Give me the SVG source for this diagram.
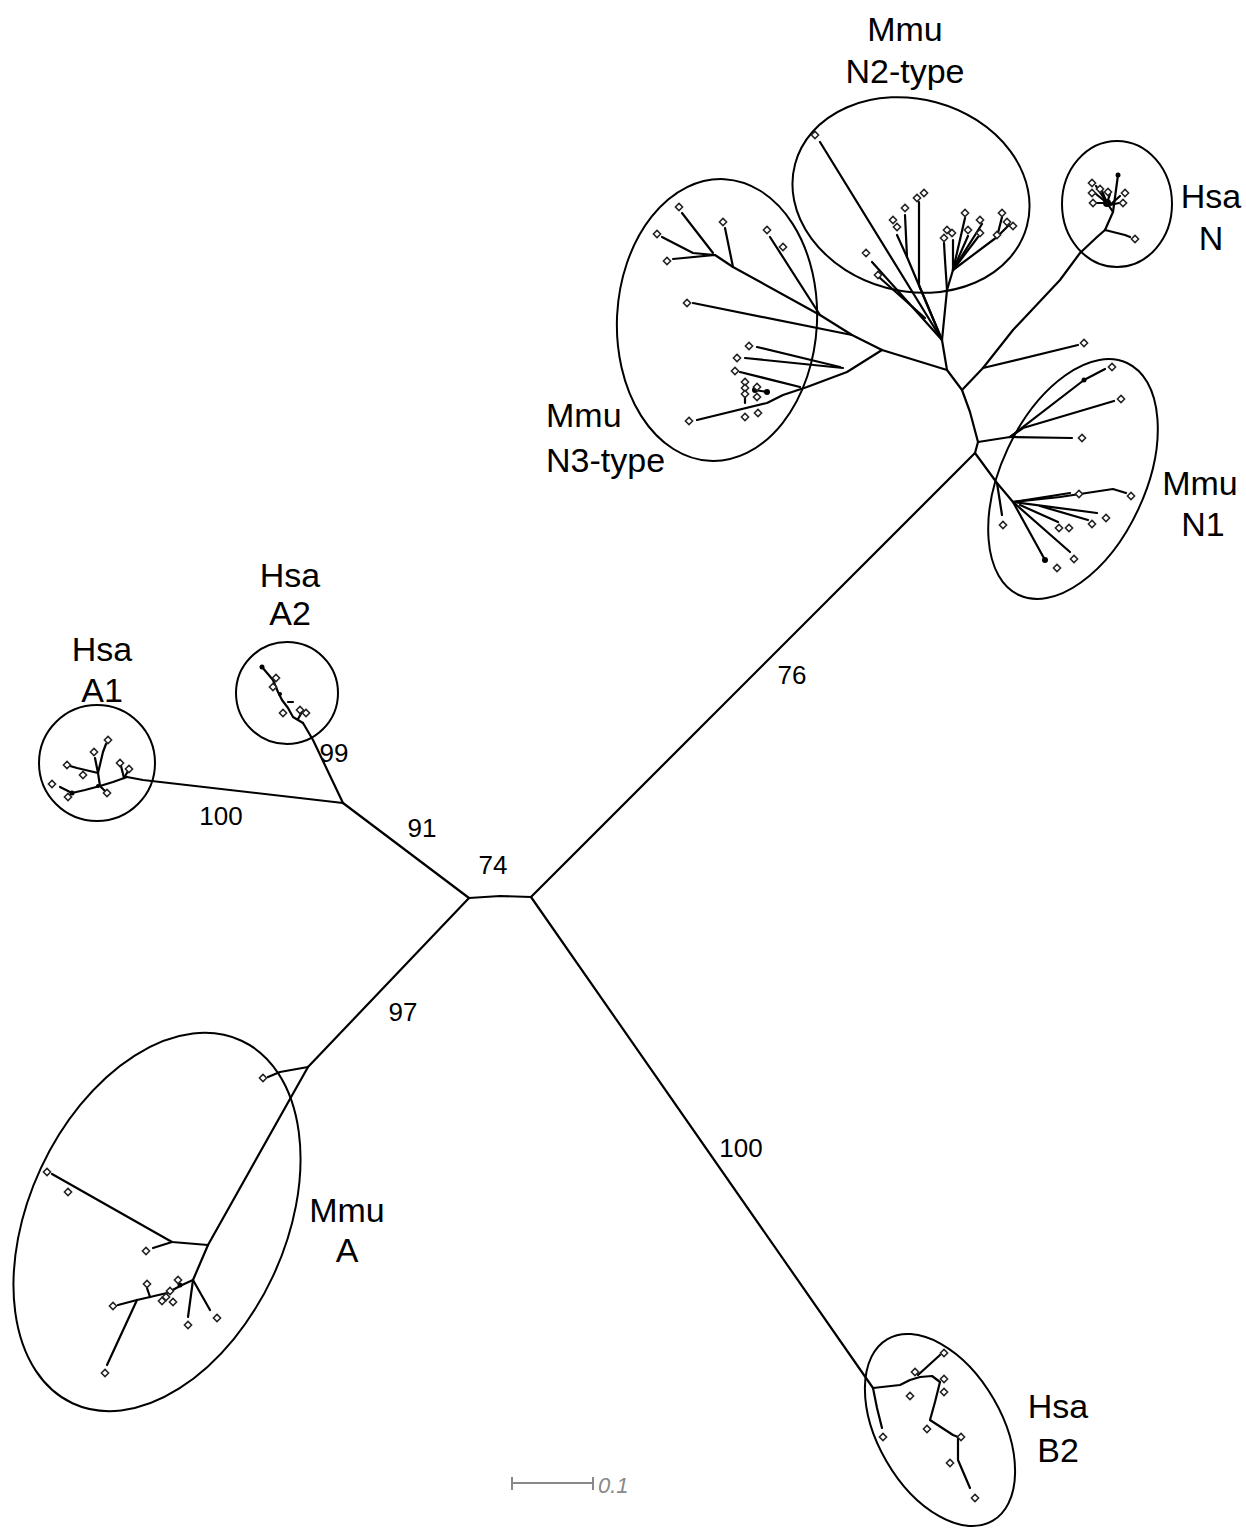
<svg xmlns="http://www.w3.org/2000/svg" xmlns:xlink="http://www.w3.org/1999/xlink" width="1246" height="1529" viewBox="0 0 1246 1529">
<style>
.br{fill:none;stroke:#000;stroke-width:2.2;stroke-linejoin:round;stroke-linecap:round}
.ring{fill:none;stroke:#000;stroke-width:2}
.lab{font-family:"Liberation Sans",Arial,sans-serif;font-size:34px;fill:#000;text-anchor:middle}
.num{font-family:"Liberation Sans",Arial,sans-serif;font-size:26px;fill:#000;text-anchor:middle}
.dot{fill:#000}
</style>
<defs>
<path id="d" d="M0,-3.6 L3.6,0 L0,3.6 L-3.6,0Z" fill="#fff" stroke="#222" stroke-width="1.5"/>
</defs>
<rect width="1246" height="1529" fill="#fff"/>

<g id="connectors" class="br">
<polyline points="469,898 500,896 531,897"/>
<polyline points="469,898 343,803"/>
<polyline points="343,803 143,780 127,777"/>
<polyline points="343,803 313,740 303,723"/>
<polyline points="469,898 308,1067"/>
<polyline points="531,897 873,1388"/>
<polyline points="531,897 975,453"/>
<polyline points="975,453 978,442 970,412 962,390 947,370"/>
<polyline points="962,390 983,368"/>
<polyline points="983,368 1078,345"/>
<polyline points="983,368 1013,330 1060,280 1080,253 1097,237 1105,230"/>
<polyline points="947,370 942,340 947,290"/>
<polyline points="947,370 882,350"/>
<polyline points="978,442 1010,437"/>
<polyline points="975,453 997,483 1013,502"/>
</g>

<g id="clade-hsa-a1">
<circle class="ring" cx="97" cy="763" r="58"/>
<g class="br">
<polyline points="127,777 113,782 100,786 85,790 72,793 60,787"/>
<polyline points="100,786 105,791"/>
<polyline points="100,786 98,773 77,768 70,766"/>
<polyline points="98,773 95,758"/>
<polyline points="98,773 103,752 106,744"/>
<polyline points="124,778 121,766"/>
<polyline points="124,778 128,771"/>
</g>
<circle class="dot" cx="72" cy="793" r="2.5"/>
<circle class="dot" cx="98" cy="786" r="2"/>
<use href="#d" x="52" y="784"/><use href="#d" x="68" y="797"/><use href="#d" x="107" y="793"/>
<use href="#d" x="67" y="765"/><use href="#d" x="83" y="775"/><use href="#d" x="94" y="752"/>
<use href="#d" x="108" y="740"/><use href="#d" x="120" y="763"/><use href="#d" x="129" y="769"/>
<text class="lab" x="102" y="661">Hsa</text>
<text class="lab" x="102" y="702">A1</text>
</g>

<g id="clade-hsa-a2">
<circle class="ring" cx="287" cy="693" r="51"/>
<g class="br">
<polyline points="303,723 293,717 288,708 282,700 278,692 273,680 262,667"/>
<polyline points="288,702 293,702"/>
<polyline points="298,719 302,712"/>
</g>
<circle class="dot" cx="262" cy="667" r="2.5"/>
<circle class="dot" cx="280" cy="694" r="2"/>
<use href="#d" x="276" y="678"/><use href="#d" x="273" y="687"/><use href="#d" x="283" y="713"/>
<use href="#d" x="300" y="710"/><use href="#d" x="306" y="713"/>
<text class="lab" x="290" y="587">Hsa</text>
<text class="lab" x="290" y="625">A2</text>
</g>

<g id="clade-mmu-a">
<ellipse class="ring" cx="157" cy="1222" rx="128" ry="200" transform="rotate(25 157 1222)"/>
<g class="br">
<polyline points="308,1067 280,1072 268,1077"/>
<polyline points="308,1067 208,1245"/>
<polyline points="208,1245 172,1242 52,1174"/>
<polyline points="172,1242 153,1248"/>
<polyline points="208,1245 193,1280"/>
<polyline points="193,1280 188,1317"/>
<polyline points="193,1280 210,1310"/>
<polyline points="193,1280 182,1285 167,1293 150,1297 137,1300 118,1305"/>
<polyline points="137,1300 107,1365"/>
<polyline points="150,1297 147,1288"/>
</g>
<circle class="dot" cx="180" cy="1285" r="2.5"/>
<use href="#d" x="263" y="1078"/><use href="#d" x="47" y="1172"/><use href="#d" x="68" y="1192"/>
<use href="#d" x="146" y="1251"/><use href="#d" x="188" y="1325"/><use href="#d" x="217" y="1318"/>
<use href="#d" x="113" y="1306"/><use href="#d" x="105" y="1373"/><use href="#d" x="147" y="1284"/>
<use href="#d" x="166" y="1297"/><use href="#d" x="173" y="1302"/><use href="#d" x="170" y="1291"/>
<use href="#d" x="178" y="1280"/><use href="#d" x="162" y="1301"/>
<text class="lab" x="347" y="1222">Mmu</text>
<text class="lab" x="347" y="1262">A</text>
</g>

<g id="clade-hsa-b2">
<ellipse class="ring" cx="940" cy="1430" rx="62" ry="105" transform="rotate(-30 940 1430)"/>
<g class="br">
<polyline points="873,1388 877,1408 882,1428"/>
<polyline points="873,1388 900,1385 910,1380 920,1377 932,1376 940,1382 935,1402 930,1420 953,1435 958,1437 958,1460 970,1488"/>
<polyline points="918,1375 940,1355"/>
</g>
<use href="#d" x="883" y="1437"/><use href="#d" x="975" y="1498"/><use href="#d" x="944" y="1353"/>
<use href="#d" x="915" y="1372"/><use href="#d" x="944" y="1379"/><use href="#d" x="944" y="1392"/>
<use href="#d" x="910" y="1396"/><use href="#d" x="927" y="1429"/><use href="#d" x="961" y="1437"/>
<use href="#d" x="950" y="1463"/>
<text class="lab" x="1058" y="1418">Hsa</text>
<text class="lab" x="1058" y="1462">B2</text>
</g>

<g id="clade-hsa-n">
<ellipse class="ring" cx="1117" cy="204" rx="55" ry="63"/>
<g class="br">
<polyline points="1105,230 1125,235 1130,237"/>
<polyline points="1105,230 1113,212 1107,203"/>
<polyline points="1113,212 1118,175"/>
<polyline points="1107,203 1096,186"/>
<polyline points="1107,203 1096,194"/>
<polyline points="1107,203 1097,203"/>
<polyline points="1107,203 1102,191"/>
<polyline points="1107,203 1110,194"/>
<polyline points="1110,205 1120,196"/>
<polyline points="1110,205 1119,203"/>
</g>
<circle class="dot" cx="1107" cy="203" r="4"/>
<circle class="dot" cx="1118" cy="175" r="2.5"/>
<use href="#d" x="1135" y="239"/><use href="#d" x="1092" y="183"/><use href="#d" x="1092" y="193"/>
<use href="#d" x="1093" y="203"/><use href="#d" x="1100" y="189"/><use href="#d" x="1108" y="192"/>
<use href="#d" x="1125" y="193"/><use href="#d" x="1123" y="203"/>
<text class="lab" x="1211" y="208">Hsa</text>
<text class="lab" x="1211" y="250">N</text>
</g>

<g id="clade-mmu-n1">
<ellipse class="ring" cx="1073" cy="479" rx="72" ry="128" transform="rotate(25 1073 479)"/>
<g class="br">
<polyline points="1010,437 1072,438"/>
<polyline points="1010,437 1023,428 1114,401"/>
<polyline points="1010,437 1084,380 1105,369"/>
<polyline points="997,483 1002,515"/>
<polyline points="1013,502 1070,493"/>
<polyline points="1013,502 1060,497 1113,489 1126,493"/>
<polyline points="1013,502 1097,513"/>
<polyline points="1020,505 1058,522"/>
<polyline points="1040,506 1088,520"/>
<polyline points="1013,502 1070,552"/>
<polyline points="1013,502 1045,560"/>
</g>
<circle class="dot" cx="1084" cy="380" r="2.5"/>
<circle class="dot" cx="1045" cy="560" r="3"/>
<use href="#d" x="1082" y="438"/><use href="#d" x="1121" y="399"/><use href="#d" x="1112" y="367"/>
<use href="#d" x="1003" y="525"/><use href="#d" x="1079" y="494"/><use href="#d" x="1131" y="496"/>
<use href="#d" x="1106" y="518"/><use href="#d" x="1092" y="524"/><use href="#d" x="1059" y="528"/>
<use href="#d" x="1069" y="528"/><use href="#d" x="1074" y="559"/><use href="#d" x="1057" y="568"/>
<use href="#d" x="1084" y="343"/>
<text class="lab" x="1200" y="495">Mmu</text>
<text class="lab" x="1203" y="536">N1</text>
</g>

<g id="clade-mmu-n2">
<ellipse class="ring" cx="911" cy="195" rx="120" ry="96" transform="rotate(15 911 195)"/>
<g class="br">
<polyline points="942,340 820,142"/>
<polyline points="942,340 872,262"/>
<polyline points="925,318 880,278"/>
<polyline points="942,340 919,285 919,202"/>
<polyline points="942,340 907,257 905,215"/>
<polyline points="907,257 897,235"/>
<polyline points="947,290 945,260 944,243"/>
<polyline points="947,290 953,270 953,240"/>
<polyline points="953,270 965,218"/>
<polyline points="953,270 968,236"/>
<polyline points="953,270 978,237"/>
<polyline points="953,270 982,224"/>
<polyline points="953,270 997,237 1002,217"/>
<polyline points="997,237 1009,225"/>
</g>
<use href="#d" x="815" y="135"/><use href="#d" x="866" y="253"/><use href="#d" x="878" y="275"/>
<use href="#d" x="893" y="220"/><use href="#d" x="897" y="227"/><use href="#d" x="905" y="208"/>
<use href="#d" x="917" y="198"/><use href="#d" x="924" y="193"/><use href="#d" x="944" y="238"/>
<use href="#d" x="947" y="230"/><use href="#d" x="952" y="233"/><use href="#d" x="965" y="213"/>
<use href="#d" x="968" y="230"/><use href="#d" x="980" y="233"/><use href="#d" x="980" y="220"/>
<use href="#d" x="1002" y="213"/><use href="#d" x="1007" y="222"/><use href="#d" x="1013" y="226"/>
<use href="#d" x="997" y="235"/>
<text class="lab" x="905" y="41">Mmu</text>
<text class="lab" x="905" y="83">N2-type</text>
</g>

<g id="clade-mmu-n3">
<ellipse class="ring" cx="717" cy="320" rx="100" ry="141" transform="rotate(3 717 320)"/>
<g class="br">
<polyline points="882,350 852,335 820,315 733,267 715,255 673,259"/>
<polyline points="715,255 693,253 662,237"/>
<polyline points="713,253 682,213"/>
<polyline points="733,267 725,228"/>
<polyline points="820,315 770,237"/>
<polyline points="852,335 693,303"/>
<polyline points="882,350 847,372 807,387 783,395 767,403 697,420"/>
<polyline points="840,367 757,347"/>
<polyline points="843,368 745,358"/>
<polyline points="800,387 740,372"/>
<polyline points="745,382 745,403"/>
<polyline points="755,390 767,392"/>
</g>
<circle class="dot" cx="755" cy="390" r="3"/>
<circle class="dot" cx="767" cy="392" r="3"/>
<use href="#d" x="667" y="261"/><use href="#d" x="657" y="234"/><use href="#d" x="679" y="207"/>
<use href="#d" x="723" y="222"/><use href="#d" x="767" y="230"/><use href="#d" x="783" y="247"/>
<use href="#d" x="687" y="303"/><use href="#d" x="689" y="421"/><use href="#d" x="749" y="346"/>
<use href="#d" x="737" y="358"/><use href="#d" x="735" y="371"/><use href="#d" x="745" y="382"/>
<use href="#d" x="745" y="388"/><use href="#d" x="745" y="394"/><use href="#d" x="757" y="387"/>
<use href="#d" x="757" y="397"/><use href="#d" x="745" y="417"/><use href="#d" x="758" y="413"/>
<text class="lab" x="546" y="427" style="text-anchor:start">Mmu</text>
<text class="lab" x="546" y="472" style="text-anchor:start">N3-type</text>
</g>

<g id="support-values">
<text class="num" x="334" y="762">99</text>
<text class="num" x="221" y="825">100</text>
<text class="num" x="422" y="837">91</text>
<text class="num" x="493" y="874">74</text>
<text class="num" x="403" y="1021">97</text>
<text class="num" x="792" y="684">76</text>
<text class="num" x="741" y="1157">100</text>
</g>

<g id="scale-bar" stroke="#888" stroke-width="2" fill="none">
<line x1="512" y1="1483" x2="593" y2="1483"/>
<line x1="512" y1="1477" x2="512" y2="1490"/>
<line x1="593" y1="1477" x2="593" y2="1490"/>
<text x="598" y="1493" stroke="none" fill="#888" font-family="'Liberation Sans',Arial,sans-serif" font-size="22" font-style="italic">0.1</text>
</g>
</svg>
